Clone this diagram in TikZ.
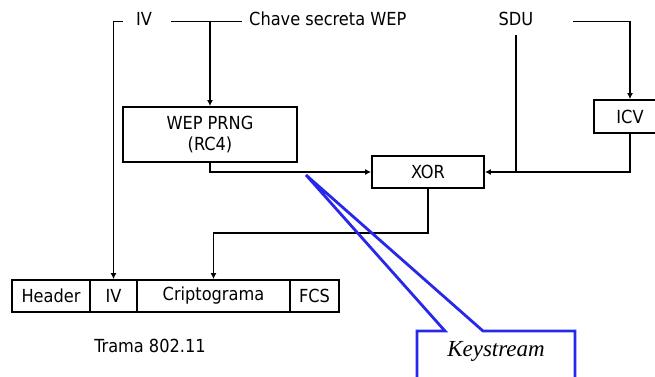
\documentclass[tikz,border=0pt]{standalone}
\usepackage{fontspec}
\setmainfont{DejaVu Sans Condensed}
\newfontfamily\kfont{Liberation Serif}
\usetikzlibrary{arrows.meta}
\definecolor{callblue}{RGB}{40,40,235}
\tikzset{
  lbl/.style={inner sep=0pt, font=\fontsize{18}{21}\selectfont},
  blk/.style={draw, line width=1.8pt, inner sep=0pt, font=\fontsize{18}{21}\selectfont, align=center},
  wire/.style={line width=1.8pt},
  arr/.style={wire, -{Latex[length=6pt,width=6pt]}},
  callout/.style={draw=callblue, line width=2.8pt, line join=miter}
}
\begin{document}
\begin{tikzpicture}[x=1pt,y=-1pt]
\clip (0,0) rectangle (655,376);
\fill[white] (0,0) rectangle (655,376);
% labels
\node[lbl] (ivtxt) at (144,19) {IV};
\node[lbl,anchor=west] (chave) at (249,19) {Chave secreta WEP};
\node[lbl] (sdu) at (516,19) {SDU};
% blocks
\node[blk, minimum width=174pt, minimum height=55pt] (prng) at (210,134.5) {WEP PRNG\\(RC4)};
\node[blk, minimum width=112pt, minimum height=32pt] (xor) at (428,172) {XOR};
\node[blk, minimum width=72pt, minimum height=33pt] (icv) at (630,116.5) {ICV};
% frame
\node[blk, minimum width=78pt, minimum height=32pt] (hdr) at (51,296) {Header};
\node[blk, minimum width=47pt, minimum height=32pt] (ivc) at (113.5,296) {IV};
\node[blk, minimum width=153pt, minimum height=32pt] (crip) at (213.5,296) {Criptograma};
\node[blk, minimum width=49pt, minimum height=32pt] (fcs) at (314.5,296) {FCS};
\node[lbl] (trama) at (150,346) {Trama 802.11};
% coordinates
\coordinate (ivL) at (123,21.5);
\coordinate (k1) at (171,21.5);
\coordinate (k2) at (242,21.5);
\coordinate (kj) at (210,21.5);
\coordinate (s1) at (573,21.5);
\coordinate (sdutop) at (516,35);
\coordinate (mid) at (428,233);
% connectors
\draw[arr] (ivL) -| (ivc.north);
\draw[wire] (k1) -- (k2);
\draw[arr] (kj) -- (prng.north);
\draw[arr] (prng.south) |- (xor.west);
\draw[arr] (s1) -| (icv.north);
\draw[arr] (icv.south) |- (xor.east);
\draw[wire] (sdutop) -- (sdutop |- xor.east);
\draw[arr] (xor.south) -- (mid) -| (crip.north);
% callout
\coordinate (tip) at (306,175);
\draw[callout] (445,331) -- (417,331) -- (417,385) -- (575,385) -- (575,331) -- (483,331) -- (tip) -- cycle;
\node[inner sep=0pt, font=\kfont\itshape\fontsize{23}{26}\selectfont] (ks) at (496,351) {Keystream};
\end{tikzpicture}
\end{document}
